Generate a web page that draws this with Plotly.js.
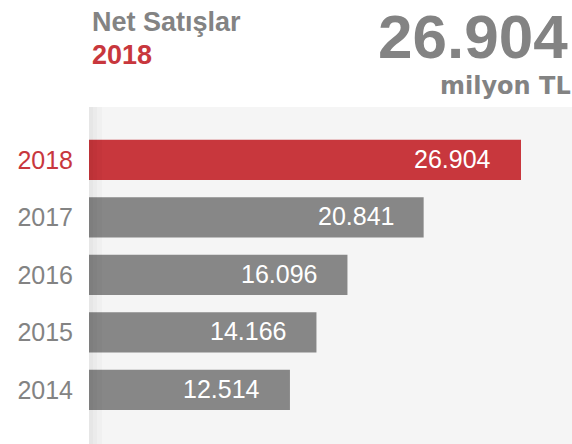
<!DOCTYPE html>
<html>
<head>
<meta charset="utf-8">
<script src="https://cdn.plot.ly/plotly-3.0.1.min.js"></script>
<style>html,body{margin:0;padding:0;background:#fff;}#chart{width:572px;height:444px;}</style>
</head>
<body>
<div id="chart"></div>
<script>
// ---- data ----
const years = ['2018', '2017', '2016', '2015', '2014'];
const netSales = [26904, 20841, 16096, 14166, 12514]; // milyon TL
const highlightYear = '2018';
const titleText = 'Net Satışlar';
const unitText = 'milyon TL';

// ---- styles ----
const RED = '#c8373d';
const GRAY_BAR = '#878787';
const GRAY_TEXT = '#838383';
const FONT = 'Liberation Sans, Arial, Helvetica, sans-serif';

function fmt(v) { return String(Math.round(v)).replace(/\B(?=(\d{3})+(?!\d))/g, '.'); }

const hiIdx = years.indexOf(highlightYear);
const maxVal = Math.max.apply(null, netSales);

const trace = {
  type: 'bar',
  orientation: 'h',
  y: years,
  x: netSales,
  width: 0.7,
  marker: { color: years.map(y => y === highlightYear ? RED : GRAY_BAR), line: { width: 0 } },
  hoverinfo: 'none'
};

// category axis: annotation y given as the category's serial index
const annotations = years.map((y, i) => ({
  x: netSales[i], y: i, xref: 'x', yref: 'y',
  text: fmt(netSales[i]), showarrow: false,
  xanchor: 'right', yanchor: 'middle', xshift: -28, yshift: 1,
  font: { family: FONT, size: 25, color: '#ffffff' }
}));

annotations.push(
  { xref: 'paper', yref: 'paper', x: 0.004, y: 1.2534, xanchor: 'left', yanchor: 'middle', showarrow: false, borderpad: 0,
    text: '<b>' + titleText + '</b>', font: { family: FONT, size: 27, color: GRAY_TEXT } },
  { xref: 'paper', yref: 'paper', x: 0.004, y: 1.1555, xanchor: 'left', yanchor: 'middle', showarrow: false, borderpad: 0,
    text: '<b>' + highlightYear + '</b>', font: { family: FONT, size: 27, color: RED } },
  { xref: 'paper', yref: 'paper', x: 0.994, y: 1.2083, xanchor: 'right', yanchor: 'middle', showarrow: false, borderpad: 0,
    text: '<b>' + fmt(netSales[hiIdx]) + '</b>', font: { family: FONT, size: 62, color: GRAY_TEXT } },
  { xref: 'paper', yref: 'paper', x: 1.0, y: 1.0632, xanchor: 'right', yanchor: 'middle', showarrow: false, borderpad: 0,
    text: '<b>' + unitText + '</b>', font: { family: 'DejaVu Sans, sans-serif', size: 24, color: GRAY_TEXT } }
);

const shapes = [4, 8, 13].map(w => ({
  type: 'rect', xref: 'x', yref: 'paper', xsizemode: 'pixel', xanchor: 0,
  x0: 0, x1: w, y0: 0, y1: 1, fillcolor: 'rgba(0,0,0,0.02)', line: { width: 0 }, layer: 'above'
}));

const layout = {
  width: 572, height: 444,
  margin: { l: 89, r: 0, t: 107, b: 0, pad: 0 },
  paper_bgcolor: '#ffffff',
  plot_bgcolor: '#f5f5f5',
  showlegend: false,
  xaxis: { range: [0, maxVal * 483 / 432], visible: false, showgrid: false, zeroline: false, fixedrange: true },
  yaxis: {
    type: 'category', categoryorder: 'array', categoryarray: years,
    range: [4.94, -0.92],
    tickvals: years,
    ticktext: years.map(y => y === highlightYear ? '<span style="color:' + RED + '">' + y + '</span>' : y),
    ticks: '', ticklabelstandoff: 15,
    tickfont: { family: FONT, size: 25, color: GRAY_TEXT },
    showgrid: false, zeroline: false, showline: false, fixedrange: true
  },
  annotations: annotations,
  shapes: shapes
};

Plotly.newPlot('chart', [trace], layout, { displayModeBar: false, staticPlot: true });
</script>
</body>
</html>
